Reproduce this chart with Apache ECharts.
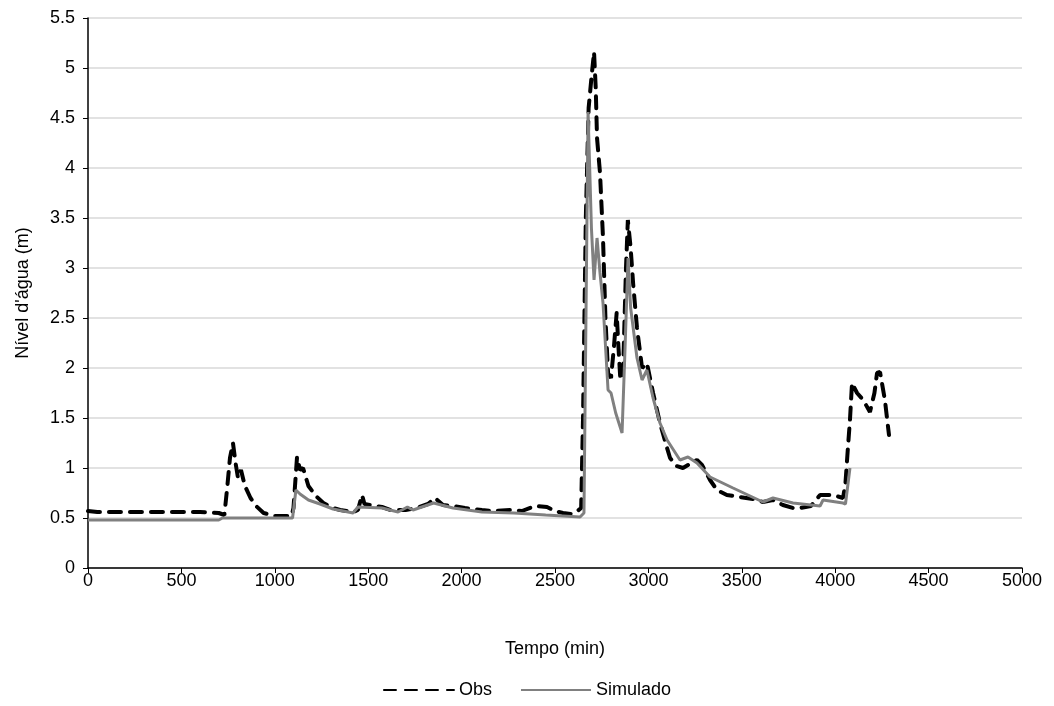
<!DOCTYPE html>
<html><head><meta charset="utf-8">
<script src="https://cdn.jsdelivr.net/npm/echarts@6/dist/echarts.min.js"></script>
<style>html,body{margin:0;padding:0;background:#fff}#c{width:1054px;height:706px}</style>
</head><body><div id="c"></div>
<script>
const obsT = [0,50,200,400,600,700,730,745,760,776,790,803,819,840,870,900,940,1000,1090,1100,1119,1135,1151,1180,1220,1260,1312,1350,1419,1445,1467,1480,1510,1574,1620,1700,1760,1820,1858,1900,1954,2018,2109,2168,2259,2323,2393,2457,2500,2543,2590,2620,2640,2650,2665,2680,2695,2709,2718,2725,2741,2757,2770,2784,2800,2815,2830,2840,2850,2865,2880,2890,2905,2918,2939,2966,2992,3025,3062,3100,3116,3150,3185,3230,3260,3287,3330,3367,3420,3490,3560,3613,3667,3720,3774,3812,3870,3919,3988,4042,4055,4068,4079,4090,4117,4150,4186,4210,4224,4240,4266,4288];
const obsV = [0.57,0.56,0.56,0.56,0.56,0.55,0.53,0.80,1.10,1.25,1.05,0.90,0.98,0.82,0.70,0.62,0.55,0.52,0.52,0.60,1.11,0.98,1.00,0.82,0.72,0.65,0.60,0.58,0.56,0.58,0.73,0.64,0.63,0.61,0.58,0.58,0.60,0.64,0.70,0.63,0.62,0.60,0.58,0.57,0.58,0.57,0.62,0.61,0.57,0.55,0.54,0.57,0.60,1.5,3.5,4.6,4.9,5.16,4.8,4.3,3.95,3.3,2.5,1.95,1.90,2.2,2.55,2.2,1.88,2.0,3.0,3.48,3.2,2.85,2.4,2.0,2.05,1.75,1.45,1.20,1.10,1.02,1.00,1.05,1.08,1.03,0.88,0.78,0.73,0.71,0.69,0.66,0.68,0.63,0.60,0.60,0.62,0.73,0.73,0.70,0.85,1.2,1.48,1.85,1.75,1.68,1.56,1.75,1.95,1.96,1.68,1.33];
const simT = [0,700,720,1000,1095,1113,1135,1180,1242,1312,1419,1445,1574,1660,1710,1740,1850,1954,2109,2280,2450,2634,2655,2677,2695,2709,2725,2741,2757,2784,2800,2825,2859,2875,2891,2905,2939,2966,2992,3025,3062,3100,3169,3212,3260,3330,3453,3613,3667,3774,3919,3935,4042,4055,4079];
const simV = [0.48,0.48,0.50,0.50,0.50,0.78,0.74,0.68,0.64,0.59,0.55,0.61,0.60,0.56,0.61,0.58,0.65,0.60,0.56,0.55,0.53,0.51,0.55,4.56,3.4,2.88,3.3,2.95,2.65,1.78,1.75,1.55,1.35,2.2,3.1,2.6,2.1,1.88,1.98,1.70,1.45,1.28,1.08,1.11,1.05,0.91,0.80,0.66,0.70,0.65,0.62,0.68,0.65,0.64,1.00];
const seriesNames = ['Obs','Simulado'];
const xTitle = 'Tempo (min)';
const yTitle = "Nível d'água (m)";

const obsData = obsT.map((t,i)=>[t,obsV[i]]);
const simData = simT.map((t,i)=>[t,simV[i]]);
const font = 'Liberation Sans, Arial, sans-serif';
const fs = 18;
const chart = echarts.init(document.getElementById('c'));
chart.setOption({
  animation:false,
  backgroundColor:'#fff',
  grid:{left:88,right:32,top:18,bottom:138},
  xAxis:{type:'value',min:0,max:5000,interval:500,
    name:xTitle,nameLocation:'middle',nameGap:72,
    nameTextStyle:{fontFamily:font,fontSize:fs,color:'#000'},
    axisLine:{lineStyle:{color:'#000',width:1.5}},
    axisTick:{show:true,length:5,lineStyle:{color:'#000'}},
    axisLabel:{fontFamily:font,fontSize:fs,color:'#000',margin:4,formatter:v=>String(v)},
    splitLine:{show:false}},
  yAxis:{type:'value',min:0,max:5.5,interval:0.5,
    name:yTitle,nameLocation:'middle',nameGap:56,nameRotate:90,
    nameTextStyle:{fontFamily:font,fontSize:fs,color:'#000'},
    axisLine:{show:true,lineStyle:{color:'#000',width:1.5}},
    axisTick:{show:true,length:5,lineStyle:{color:'#000'}},
    axisLabel:{fontFamily:font,fontSize:fs,color:'#000',margin:13},
    splitLine:{show:true,lineStyle:{color:'#d9d9d9',width:1.5}}},
  legend:{bottom:2,left:'center',itemWidth:70,itemHeight:4,itemGap:28,
    itemStyle:{opacity:0},
    textStyle:{fontFamily:font,fontSize:fs,color:'#000'},
    data:seriesNames},
  series:[
    {name:seriesNames[0],type:'line',data:obsData,symbol:'none',z:2,
      lineStyle:{color:'#000',width:4,type:[12,9],cap:'round'},itemStyle:{color:'#000'}},
    {name:seriesNames[1],type:'line',data:simData,symbol:'none',z:3,
      lineStyle:{color:'#808080',width:3},itemStyle:{color:'#808080'}}
  ]
});
</script></body></html>
